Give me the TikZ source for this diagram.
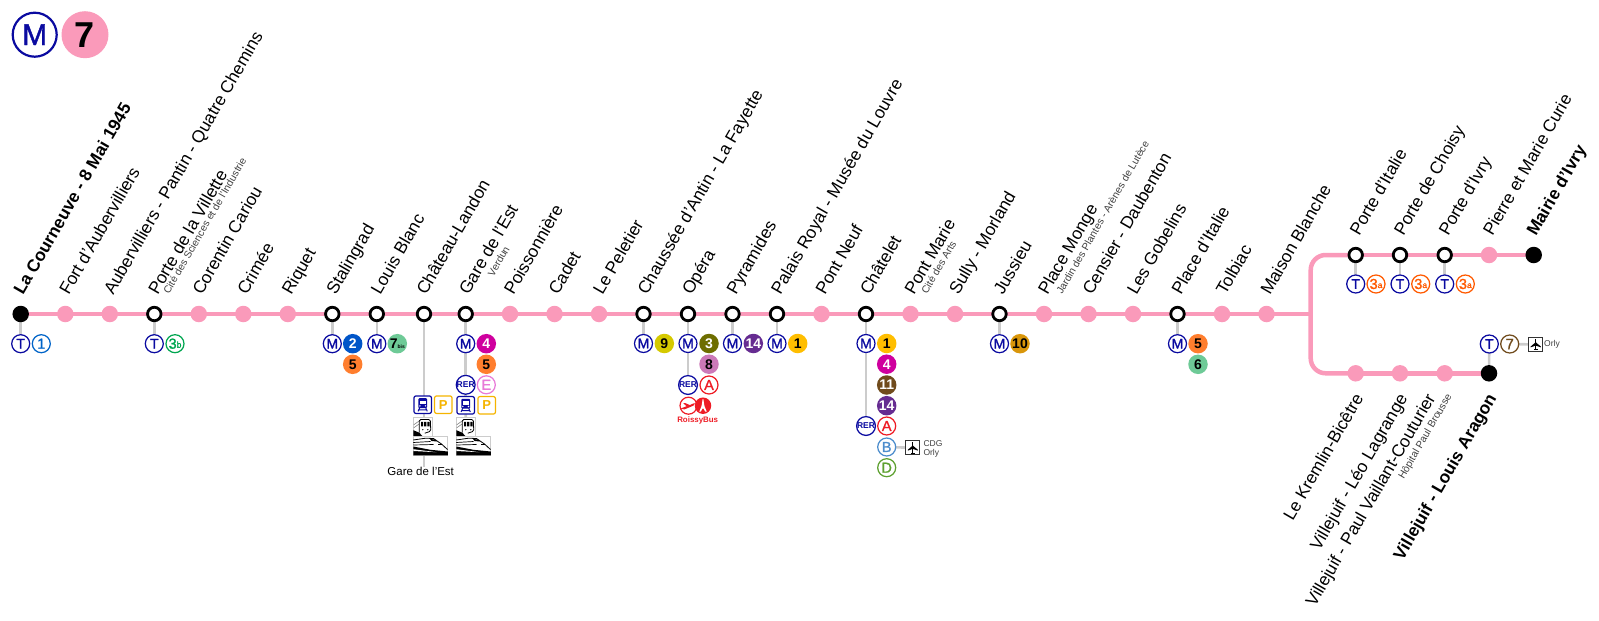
\documentclass[tikz,border=0pt]{standalone}
\usepackage{fontspec}
\setmainfont{Liberation Sans}
\newfontfamily\semib[FakeBold=1.3]{Liberation Sans}
\usetikzlibrary{backgrounds}
\definecolor{pinkline}{HTML}{FA9ABA}
\definecolor{rblue}{HTML}{0A0AA0}
\definecolor{greyc}{HTML}{CCCCCC}
\definecolor{cT}{HTML}{0064C8}
\definecolor{cTb}{HTML}{00A650}
\definecolor{cII}{HTML}{0055C8}
\definecolor{cV}{HTML}{FF7E2E}
\definecolor{cVIIb}{HTML}{6ECA97}
\definecolor{cIV}{HTML}{CF009E}
\definecolor{cE}{HTML}{E87BD8}
\definecolor{cP}{HTML}{F5B400}
\definecolor{cIX}{HTML}{D5C900}
\definecolor{cIII}{HTML}{6E6E00}
\definecolor{cVIII}{HTML}{CC79B8}
\definecolor{cA}{HTML}{EE1C25}
\definecolor{cXIV}{HTML}{662C91}
\definecolor{cI}{HTML}{FFBE00}
\definecolor{cXI}{HTML}{704B1C}
\definecolor{cB}{HTML}{4B8CCC}
\definecolor{cD}{HTML}{5DA02F}
\definecolor{cTa}{HTML}{FF5A00}
\definecolor{cX}{HTML}{D9960A}
\definecolor{cVI}{HTML}{6ECA97}
\newcommand{\fsz}[1]{\fontsize{#1}{#1}\selectfont}
\tikzset{
  x=1pt,y=-1pt,
  lineseg/.style={draw=pinkline,line width=4.5pt},
  conn/.style={draw=greyc,line width=2.6pt},
  plain/.style={circle,fill=pinkline,inner sep=0,minimum size=16.5pt},
  ring/.style={circle,draw=black,fill=white,line width=2.8pt,inner sep=0,minimum size=13.5pt},
  term/.style={circle,fill=black,inner sep=0,minimum size=16.5pt},
  ic/.style={circle,draw=#1,fill=white,text=#1,line width=1.25pt,inner sep=0,minimum size=18pt,font=\semib\fsz{14.5}},
  icm/.style={ic=rblue,font=\semib\fsz{14}},
  icrer/.style={ic=rblue,font=\fsz{8.5}\bfseries},
  fl/.style={circle,fill=#1,text=black,inner sep=0,minimum size=19.5pt,font=\fsz{14}\bfseries},
  flw/.style={fl=#1,text=white},
  pbox/.style={draw=cP,fill=white,text=cP,rounded corners=2pt,line width=1.2pt,inner sep=0,minimum size=17.5pt,font=\fsz{13}\bfseries},
  tbox/.style={draw=rblue,fill=white,rounded corners=2pt,line width=1.2pt,inner sep=0,minimum size=17.5pt},
  gbox/.style={draw=greyc,fill=white,line width=.7pt,inner sep=0,minimum width=#1,minimum height=18.5pt},
  abox/.style={draw=black!80,fill=white,line width=.8pt,inner sep=0,minimum size=14pt},
  lab/.style={rotate=60,anchor=base west,inner sep=0,font=\fsz{17.3}},
  labb/.style={lab,font=\fsz{17.3}\bfseries},
  sub/.style={rotate=60,anchor=base west,inner sep=0,font=\fsz{10.3},text=black!75},
  rlab/.style={rotate=60,anchor=base east,inner sep=0,font=\fsz{17.3}},
  rlabb/.style={rlab,font=\fsz{17.3}\bfseries},
  rsub/.style={rotate=60,anchor=base east,inner sep=0,font=\fsz{10.3},text=black!75},
  small/.style={anchor=west,inner sep=0,font=\fsz{8.5},text=black!75},
  trainblue/.pic={
    \fill[rblue,rounded corners=1pt] (-4.4,-6.5) rectangle (4.4,3.4);
    \fill[white] (-3,-4.2) rectangle (3,-.6);
    \fill[white] (-2.8,1.2) circle (.8) (2.8,1.2) circle (.8);
    \draw[rblue,line width=1pt] (-3,3) -- (-4.6,6.6) (3,3) -- (4.6,6.6) (-3.6,5.2) -- (3.6,5.2);
  },
  trainblack/.pic={
    \draw[black,line width=.8pt,rounded corners=1.5pt] (-3.5,6) -- (-3.5,-7.2) -- (7.5,-7.2) -- (8,4.5) -- (2,6.5);
    \fill[black] (-1.8,-4.8) rectangle (0.4,-.3) (1.4,-4.8) rectangle (3.6,-.3) (4.6,-4.8) rectangle (6.8,-.3);
    \fill[black] (0,3) circle (.7) (5,3) circle (.7);
    \draw[black!50,line width=.6pt] (-9,-2) -- (-4,-5.5) (-9,1) -- (-4,-2.5);
    \fill[black] (-9.5,9.25) -- (-9.5,3.5) -- (-3.5,6) -- (-.5,9.25) -- cycle;
  },
  tgv/.pic={
    \fill[black] (-17.25,9.25) -- (17.25,9.25) -- (17.25,5.5) -- (0,3.8) -- (-17.25,.5) -- cycle;
    \fill[white] (-17.25,3.2) -- (6,6.2) -- (-17.25,5) -- cycle;
    \draw[black,line width=.8pt] (-17.25,-6) -- (-5,-7.8) -- (3,-7.5) -- (11,-2) -- (17,3.5);
    \draw[black,line width=.7pt] (-17.25,-3.5) -- (0,-4.5) (-17.25,-1) -- (3,-1.5);
    \fill[black] (-.5,-7) -- (4.5,-6.5) -- (7,-4.5) -- (1,-5) -- cycle;
    \fill[black] (7,-1.8) rectangle (11,-.8);
  },
  plane/.pic={
    \draw[black,line width=.8pt] (0,-6) -- (0,6);
    \fill[black] (0,-2.5) -- (5.6,2.2) -- (5.6,3.1) -- (0,1.2) -- (-5.6,3.1) -- (-5.6,2.2) -- cycle;
    \draw[black,line width=.6pt] (-2,5.6) -- (2,5.6);
  },
  planered/.pic={
    \fill[cA] (-7,2.6) -- (-1,.2) -- (-4.2,-2.8) -- (-2.4,-3) -- (2.4,-.9) -- (6,-2.6) -- (7.5,-2.6) -- (6,-.4) -- (-3,3.4) -- cycle;
  },
  eiffel/.pic={
    \fill[white] (-.4,-6.5) -- (.4,-6.5) -- (1.2,-1) -- (1.7,1) -- (3.8,6) -- (2.2,6) -- (.6,3) -- (-.6,3) -- (-2.2,6) -- (-3.8,6) -- (-1.7,1) -- (-1.2,-1) -- cycle;
  }
}
\begin{document}
\begin{tikzpicture}
\useasboundingbox (0,0) rectangle (1599,621);
% logo
\node[circle,draw=rblue,line width=2.2pt,fill=white,text=rblue,inner sep=0,minimum size=44pt,font=\semib\fsz{30}] (logoM) at (34.7,34.7) {M};
\node[circle,fill=pinkline,inner sep=0,minimum size=47pt,font=\fsz{36}\bfseries] (logo7) at (85,34.7) {7};
% stations
\foreach \n/\x/\k in {1/20.7/term,2/65.3/plain,3/109.8/plain,4/154.3/ring,5/198.8/plain,6/243.3/plain,7/287.8/plain,8/332.3/ring,9/376.8/ring,10/424/ring,11/465.7/ring,12/510/plain,13/554.5/plain,14/599/plain,15/643.5/ring,16/688/ring,17/732.5/ring,18/777/ring,19/821.5/plain,20/866/ring,21/910.5/plain,22/955/plain,23/999.5/ring,24/1044/plain,25/1088.5/plain,26/1133/plain,27/1177.5/ring,28/1222/plain,29/1266.5/plain}
  {\node[\k] (s\n) at (\x,314) {};}
\foreach \n/\x/\k in {1/1355.7/ring,2/1400/ring,3/1444.7/ring,4/1489/plain,5/1533.7/term}
  {\node[\k] (u\n) at (\x,255) {};}
\foreach \n/\x/\k in {1/1355.7/plain,2/1400/plain,3/1444.7/plain,4/1489/term}
  {\node[\k] (l\n) at (\x,373.3) {};}
\coordinate (jn) at (1310.7,314);
% labels
\node[labb] at (23,296) {La Courneuve - 8 Mai 1945};
\foreach \x/\t in {68.8/Fort d'Aubervilliers,113.3/Aubervilliers - Pantin - Quatre Chemins,157.8/Porte de la Villette,202/Corentin Cariou,246.8/Crimée,291.3/Riquet,335.8/Stalingrad,380.3/Louis Blanc,426/Château-Landon,468.5/Gare de l'Est,513.5/Poissonnière,558/Cadet,602.5/Le Peletier,647/Chaussée d'Antin - La Fayette,691.5/Opéra,736/Pyramides,780.5/Palais Royal - Musée du Louvre,825/Pont Neuf,869.5/Châtelet,914/Pont Marie,958.5/Sully - Morland,1003/Jussieu,1047.5/Place Monge,1092/Censier - Daubenton,1136.5/Les Gobelins,1181/Place d'Italie,1225.5/Tolbiac,1270/Maison Blanche}
  {\node[lab] at (\x,296) {\t};}
\foreach \x/\t in {1359.2/Porte d'Italie,1403.5/Porte de Choisy,1448.2/Porte d'Ivry,1492.5/Pierre et Marie Curie}
  {\node[lab] at (\x,237) {\t};}
\node[labb] at (1536,237) {Mairie d'Ivry};
\node[sub] at (169,295) {Cité des Sciences et de l'Industrie};
\node[sub] at (493.5,277.5) {Verdun};
\node[sub] at (927,295) {Cité des Arts};
\node[sub] at (1062,295) {Jardin des Plantes - Arènes de Lutèce};
\node[rlab] at (1364,398) {Le Kremlin-Bicêtre};
\node[rlab] at (1408,398) {Villejuif - Léo Lagrange};
\node[rlab] at (1436,398) {Villejuif - Paul Vaillant-Couturier};
\node[rsub] at (1452,396) {Hôpital Paul Brousse};
\node[rlabb] at (1497,398) {Villejuif - Louis Aragon};
% icons
\node[icm] (t1) at (20.7,343.7) {T};
\node[ic=cT] (t1b) at (41.3,343.7) {1};
\node[icm] (t4) at (154.3,343.7) {T};
\node[ic=cTb] (t4b) at (175,343.7) {3\raisebox{1pt}{\fsz{8.5}b}};
\node[icm] (m8) at (332.3,343.7) {M};
\node[flw=cII] (m8a) at (352.7,343.7) {2};
\node[fl=cV] (m8b) at (352.7,364.3) {5};
\node[icm] (m9) at (376.8,343.7) {M};
\node[fl=cVIIb] (m9a) at (397.3,343.7) {7\raisebox{0pt}{\fsz{5}bis}};
\node[icm] (m11) at (465.7,343.7) {M};
\node[flw=cIV] (m11a) at (486.3,343.7) {4};
\node[fl=cV] (m11b) at (486.3,364.3) {5};
\node[icrer] (r11) at (465.7,384.8) {RER};
\node[ic=cE] (r11a) at (486.3,384.8) {E};
\node[tbox] (tr10) at (422.7,404.7) {};
\pic at (422.7,404.7) {trainblue};
\node[pbox] (p10) at (443.3,404.7) {P};
\node[tbox] (tr11) at (465.7,405.3) {};
\pic at (465.7,405.3) {trainblue};
\node[pbox] (p11) at (486.7,405.3) {P};
\node[gbox=19pt] (tl10) at (422.8,426.7) {};
\node[gbox=19pt] (tl11) at (465.8,426.7) {};
\node[gbox=34.5pt] (tg10) at (430.5,446) {};
\node[gbox=34.5pt] (tg11) at (473.5,446) {};
\pic at (422.8,426.7) {trainblack};
\pic at (465.8,426.7) {trainblack};
\pic at (430.5,446) {tgv};
\pic at (473.5,446) {tgv};
\node[font=\fsz{11.5},inner sep=0] (gel) at (420.7,471.7) {Gare de l'Est};
\node[icm] (m15) at (643.5,343.5) {M};
\node[fl=cIX] (m15a) at (664.3,343.5) {9};
\node[icm] (m16) at (688,343.5) {M};
\node[flw=cIII] (m16a) at (709,343.5) {3};
\node[fl=cVIII] (m16b) at (709,364.2) {8};
\node[icrer] (r16) at (688,385) {RER};
\node[ic=cA] (r16a) at (709,385) {A};
\node[circle,fill=cA,inner sep=0,minimum size=16.5pt] (eif) at (703,405.7) {};
\pic at (703,405.7) {eiffel};
\node[circle,draw=cA,fill=none,line width=1.2pt,inner sep=0,minimum size=17pt] (rb) at (688.5,405.7) {};
\pic at (687.5,406) {planered};
\node[font=\fsz{7.9}\bfseries,text=cA,inner sep=0] (rbt) at (697.7,420.7) {RoissyBus};
\node[icm] (m17) at (732.5,343.5) {M};
\node[flw=cXIV] (m17a) at (753.3,343.5) {14};
\node[icm] (m18) at (777,343.5) {M};
\node[fl=cI] (m18a) at (797.7,343.5) {1};
\node[icm] (m20) at (866,343.5) {M};
\node[fl=cI] (m20a) at (886.7,343.5) {1};
\node[flw=cIV] (m20b) at (886.7,364.2) {4};
\node[flw=cXI] (m20c) at (886.7,385) {11};
\node[flw=cXIV] (m20d) at (886.7,405.7) {14};
\node[icrer] (r20) at (866,426) {RER};
\node[ic=cA] (r20a) at (886.7,426) {A};
\node[ic=cB] (r20b) at (886.7,447) {B};
\node[ic=cD] (r20c) at (886.7,467.7) {D};
\node[abox] (ap20) at (912.8,447.8) {};
\pic[scale=.9] at (912.8,447.8) {plane};
\node[small] (cdg) at (923.3,443.7) {CDG};
\node[small] (orl) at (923.3,453) {Orly};
\node[icm] (m23) at (999.5,343.7) {M};
\node[fl=cX] (m23a) at (1020,343.7) {10};
\node[icm] (m27) at (1177.5,343.7) {M};
\node[fl=cV] (m27a) at (1198,343.7) {5};
\node[fl=cVI] (m27b) at (1198,364.3) {6};
\node[icm] (tu1) at (1355.7,284) {T};
\node[ic=cTa] (tu1a) at (1376,284) {3\raisebox{1pt}{\fsz{8.5}a}};
\node[icm] (tu2) at (1400,284) {T};
\node[ic=cTa] (tu2a) at (1420.7,284) {3\raisebox{1pt}{\fsz{8.5}a}};
\node[icm] (tu3) at (1444.7,284) {T};
\node[ic=cTa] (tu3a) at (1465.3,284) {3\raisebox{1pt}{\fsz{8.5}a}};
\node[icm] (tl4) at (1489.3,344) {T};
\node[ic=cXI,font=\semib\fsz{15}] (tl4a) at (1509.7,344) {7};
\node[abox] (ap4) at (1535.7,344.5) {};
\pic[scale=.9] at (1535.7,344.5) {plane};
\node[small] (orl2) at (1544,344) {Orly};
% connectors and line behind
\begin{scope}[on background layer]
\foreach \a/\b in {s1/t1,s4/t4,s8/m8,s9/m9,s11/m11,m11/r11,r11/tr11,tr11/tl11,s15/m15,s16/m16,m16/r16,s17/m17,s18/m18,s20/m20,m20/r20,s23/m23,s27/m27,u1/tu1,u2/tu2,u3/tu3,l4/tl4,r20b/ap20,tl4a/ap4}
  {\draw[conn] (\a.center) -- (\b.center);}
\draw[conn] (s10.center) -- (gel.north -| s10.center);
\draw[lineseg] (s1.center) -- (s29.center) -- (jn);
\draw[lineseg,rounded corners=15pt] (u1.center) -| (jn) |- (l1.center);
\draw[lineseg] (u1.center) -- (u5.center);
\draw[lineseg] (l1.center) -- (l4.center);
\end{scope}
\end{tikzpicture}
\end{document}
